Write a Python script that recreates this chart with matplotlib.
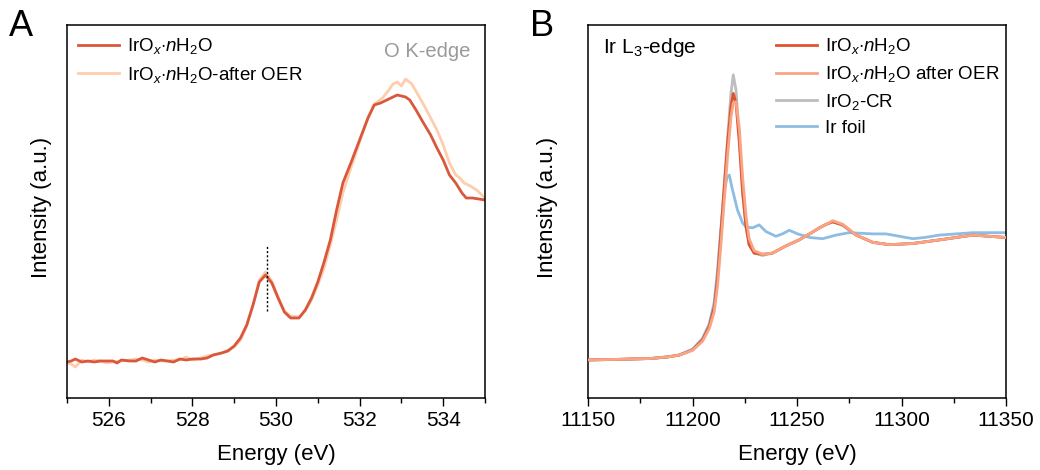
import matplotlib
matplotlib.use('Agg')
import matplotlib.pyplot as plt
from matplotlib.ticker import MultipleLocator

plt.rcParams['font.family'] = ['Liberation Sans', 'DejaVu Sans']
plt.rcParams['mathtext.fontset'] = 'custom'
plt.rcParams['mathtext.rm'] = 'Liberation Sans'
plt.rcParams['mathtext.it'] = 'Liberation Sans:italic'

# ---- panel A: O K-edge (intensity in arbitrary units) ----
eA = [525.0, 525.1, 525.2, 525.35, 525.5, 525.65, 525.8, 525.95, 526.1, 526.2, 526.3, 526.5,
      526.65, 526.8, 526.95, 527.1, 527.25, 527.4, 527.55, 527.7, 527.85, 528.0, 528.2, 528.35,
      528.5, 528.7, 528.85, 529.0, 529.15, 529.3, 529.45, 529.6, 529.75, 529.9, 530.05, 530.2,
      530.35, 530.55, 530.7, 530.85, 531.0, 531.15, 531.3, 531.45, 531.6, 531.8, 532.0, 532.2,
      532.35, 532.5, 532.7, 532.9, 533.1, 533.2, 533.35, 533.5, 533.7, 533.85, 534.0, 534.15,
      534.3, 534.45, 534.55, 534.7, 534.85, 535.0]
iA_fresh = [0.01, 0.02, 0.04, 0.01, 0.02, 0.01, 0.02, 0.02, 0.02, 0.00, 0.03, 0.02,
            0.02, 0.05, 0.03, 0.01, 0.03, 0.02, 0.01, 0.04, 0.03, 0.04, 0.04, 0.05,
            0.08, 0.10, 0.12, 0.17, 0.25, 0.38, 0.58, 0.81, 0.88, 0.80, 0.65, 0.51,
            0.45, 0.45, 0.53, 0.65, 0.81, 1.01, 1.23, 1.53, 1.80, 2.01, 2.23, 2.45,
            2.58, 2.60, 2.64, 2.68, 2.66, 2.63, 2.53, 2.42, 2.28, 2.15, 2.03, 1.88,
            1.80, 1.70, 1.65, 1.65, 1.64, 1.63]
eA_oer = [525.0, 525.1, 525.2, 525.35, 525.5, 525.65, 525.8, 525.95, 526.1, 526.3, 526.5, 526.65,
          526.8, 526.95, 527.1, 527.25, 527.4, 527.55, 527.7, 527.85, 528.0, 528.2, 528.35, 528.5,
          528.7, 528.85, 529.0, 529.15, 529.3, 529.45, 529.6, 529.75, 529.9, 530.05, 530.2, 530.35,
          530.55, 530.7, 530.85, 531.0, 531.15, 531.3, 531.45, 531.6, 531.8, 532.0, 532.2, 532.35,
          532.55, 532.7, 532.8, 532.9, 533.0, 533.1, 533.25, 533.4, 533.55, 533.7, 533.85, 534.0,
          534.15, 534.3, 534.4, 534.5, 534.65, 534.8, 535.0]
iA_oer = [0.00, -0.01, -0.04, 0.03, 0.01, 0.03, 0.02, 0.00, 0.01, 0.02, 0.03, 0.04,
          0.03, 0.01, 0.03, 0.02, 0.02, 0.03, 0.03, 0.06, 0.03, 0.05, 0.07, 0.08,
          0.10, 0.13, 0.16, 0.23, 0.37, 0.58, 0.83, 0.91, 0.82, 0.66, 0.52, 0.47,
          0.46, 0.52, 0.63, 0.78, 0.95, 1.18, 1.43, 1.70, 1.96, 2.21, 2.45, 2.59,
          2.65, 2.73, 2.79, 2.81, 2.77, 2.84, 2.79, 2.68, 2.57, 2.45, 2.33, 2.18,
          2.00, 1.88, 1.85, 1.80, 1.77, 1.73, 1.65]
pre_edge = 529.78

# ---- panel B: Ir L3-edge (normalised absorption) ----
eB = [11150, 11165, 11180, 11188, 11193.6, 11200, 11204.8, 11208, 11210.4, 11212, 11213.6,
      11215.2, 11216.8, 11218.4, 11219.5, 11220.8, 11222.4, 11224, 11225.6, 11227.1, 11229.5,
      11233.5, 11238.3, 11244.7, 11251, 11256, 11260.7, 11264, 11267.1, 11271.9, 11278.3,
      11286.2, 11294.2, 11305.4, 11318.2, 11334.1, 11350]
iB_fresh = [0.0, 0.005, 0.012, 0.025, 0.04, 0.083, 0.167, 0.28, 0.44, 0.69, 1.06,
            1.44, 1.81, 2.11, 2.22, 2.14, 1.81, 1.39, 1.11, 0.96, 0.89,
            0.88, 0.89, 0.95, 1.00, 1.05, 1.10, 1.13, 1.15, 1.125, 1.04,
            0.98, 0.96, 0.97, 1.00, 1.04, 1.02]
iB_oer = [0.0, 0.005, 0.012, 0.025, 0.04, 0.08, 0.155, 0.26, 0.40, 0.62, 0.96,
          1.33, 1.70, 2.02, 2.14, 2.15, 1.93, 1.52, 1.20, 1.01, 0.91,
          0.88, 0.89, 0.95, 1.00, 1.05, 1.10, 1.13, 1.16, 1.13, 1.04,
          0.98, 0.96, 0.97, 1.00, 1.04, 1.02]
iB_ref = [0.0, 0.005, 0.012, 0.025, 0.04, 0.083, 0.167, 0.28, 0.44, 0.69, 1.06,
          1.46, 1.85, 2.22, 2.375, 2.25, 1.85, 1.40, 1.11, 0.96, 0.89,
          0.87, 0.89, 0.95, 1.00, 1.05, 1.10, 1.13, 1.15, 1.12, 1.04,
          0.98, 0.96, 0.97, 1.00, 1.04, 1.02]
eB_foil = [11150, 11165, 11180, 11188, 11193.6, 11200, 11204.8, 11208, 11210.4, 11212, 11213.6,
           11215.2, 11216.5, 11217.6, 11219.1, 11221.5, 11224, 11225.6, 11228.7, 11231.9, 11235.1,
           11239.9, 11243, 11246.3, 11250.3, 11256, 11262.3, 11268.7, 11275, 11286.2, 11292.6,
           11299, 11305.4, 11311, 11318.2, 11334.1, 11350]
iB_foil = [0.0, 0.005, 0.012, 0.025, 0.042, 0.09, 0.18, 0.30, 0.48, 0.75, 1.10,
           1.40, 1.52, 1.54, 1.42, 1.25, 1.14, 1.11, 1.10, 1.125, 1.07,
           1.03, 1.05, 1.08, 1.05, 1.02, 1.01, 1.04, 1.06, 1.05, 1.05,
           1.03, 1.01, 1.02, 1.04, 1.06, 1.06]

lab_fresh = r'IrO$_{x}$$\cdot$$n$H$_2$O'

fig = plt.figure(figsize=(10.4, 4.7), dpi=100)
axA = fig.add_axes([67/1040, 72/470, 418/1040, 373/470])
axB = fig.add_axes([588/1040, 72/470, 418/1040, 373/470])

axA.plot(eA_oer, iA_oer, color='#FDCDAE', lw=2, label=lab_fresh + '-after OER')
axA.plot(eA, iA_fresh, color='#D9573A', lw=2, label=lab_fresh)
axA.plot([pre_edge, pre_edge], [0.52, 1.17], color='black', ls=(0, (1.5, 1.5)), lw=1)
axA.set_xlim(525, 535)
axA.set_ylim(-0.35, 3.38)
axA.xaxis.set_major_locator(MultipleLocator(2))
axA.xaxis.set_minor_locator(MultipleLocator(1))
h, l = axA.get_legend_handles_labels()
axA.legend(h[::-1], l[::-1], loc='upper left', frameon=False, fontsize=13.5,
           handlelength=2.2, handletextpad=0.4, labelspacing=0.45,
           borderaxespad=0.3, bbox_to_anchor=(-0.005, 1.005))
axA.text(0.965, 0.93, 'O K-edge', transform=axA.transAxes, ha='right', va='center',
         fontsize=14.5, color='#9A9A9A')

axB.plot(eB, iB_ref, color='#BDBDBD', lw=2, label=r'IrO$_2$-CR', zorder=2)
axB.plot(eB_foil, iB_foil, color='#8DBDE3', lw=2, label='Ir foil', zorder=2)
axB.plot(eB, iB_fresh, color='#E0532F', lw=2, label=lab_fresh, zorder=3)
axB.plot(eB, iB_oer, color='#F9A584', lw=2, label=lab_fresh + ' after OER', zorder=4)
axB.set_xlim(11150, 11350)
axB.set_ylim(-0.317, 2.79)
axB.xaxis.set_major_locator(MultipleLocator(50))
axB.xaxis.set_minor_locator(MultipleLocator(25))
h, l = axB.get_legend_handles_labels()
order = [2, 3, 0, 1]
axB.legend([h[i] for i in order], [l[i] for i in order], loc='upper left', frameon=False,
           fontsize=13.5, handlelength=2.2, handletextpad=0.4, labelspacing=0.42,
           borderaxespad=0.3, bbox_to_anchor=(0.418, 1.005))
axB.text(0.035, 0.94, r'Ir L$_3$-edge', transform=axB.transAxes, ha='left', va='center',
         fontsize=15)

for ax, lx in ((axA, -0.036), (axB, -0.072)):
    ax.set_yticks([])
    ax.set_xlabel('Energy (eV)', fontsize=16, labelpad=10)
    ax.set_ylabel('Intensity (a.u.)', fontsize=16)
    ax.yaxis.set_label_coords(lx, 0.51)
    ax.tick_params(axis='x', which='major', direction='out', length=6, width=1, labelsize=15)
    ax.tick_params(axis='x', which='minor', direction='out', length=3.5, width=1)
    for s in ax.spines.values():
        s.set_linewidth(1.1)

fig.text(9/1040, 1 - 27/470, 'A', fontsize=26, va='center', ha='left')
fig.text(530/1040, 1 - 27/470, 'B', fontsize=26, va='center', ha='left')

fig.savefig('out.png', dpi=100)
